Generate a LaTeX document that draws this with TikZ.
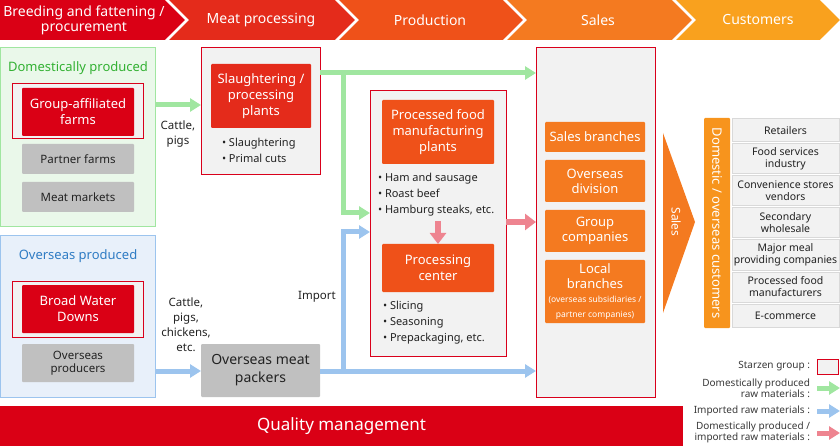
\documentclass[tikz,border=0pt]{standalone}
\usepackage{fontspec}
\setmainfont{Noto Sans}
\usetikzlibrary{arrows.meta}
\definecolor{cA}{HTML}{DA0015}
\definecolor{cB}{HTML}{E42B1B}
\definecolor{cC}{HTML}{EF5119}
\definecolor{cD}{HTML}{F47A20}
\definecolor{cE}{HTML}{F9A11E}
\definecolor{cbar}{HTML}{F7941D}
\definecolor{sred}{HTML}{D9001B}
\definecolor{boxgray}{HTML}{F2F2F2}
\definecolor{midgray}{HTML}{C0C0C0}
\definecolor{lgrayline}{HTML}{D9D9D9}
\definecolor{txt}{HTML}{222222}
\definecolor{gfill}{HTML}{EAF8EA}
\definecolor{gline}{HTML}{A0E6A0}
\definecolor{gtext}{HTML}{33B133}
\definecolor{bfill}{HTML}{E8F0FA}
\definecolor{bline}{HTML}{9CC4EE}
\definecolor{btext}{HTML}{2F7CC4}
\definecolor{pline}{HTML}{EE8490}
\newcommand\fs[2]{\fontsize{#1}{#2}\selectfont}
\newcommand\bx[7]{\node[#2, minimum width={(#5-#3)*1pt}, minimum height={(#6-#4)*1pt}] (#1) at ({(#3+#5)/2},{(#4+#6)/2}) {#7};}
\begin{document}
\begin{tikzpicture}[x=1pt,y=-1pt,
  base/.style={inner sep=0pt, outer sep=0pt, align=center, text=txt},
  grp/.style={base, draw=sred, fill=boxgray, line width=1pt},
  redbox/.style={base, fill=#1, text=white, font=\fs{13}{16}, rounded corners=1pt},
  graybox/.style={base, fill=midgray, font=\fs{11.5}{14}, rounded corners=1pt},
  orbox/.style={base, fill=cD, text=white, font=\fs{13}{15}, rounded corners=1pt},
  custbox/.style={base, fill=boxgray, draw=lgrayline, line width=1pt, font=\fs{10.5}{12}},
  hdr/.style={base, text=white, font=\fs{14}{15}},
  lbl/.style={base, font=\fs{11.5}{15}},
  bul/.style={base, align=left, font=\fs{11}{16}},
  legt/.style={base, align=right, font=\fs{10}{11}, anchor=east, text=txt!90},
  garrow/.style={draw=gline, line width=5pt, -{Triangle[length=11pt,width=13pt]}},
  barrow/.style={draw=bline, line width=5pt, -{Triangle[length=11pt,width=13pt]}},
  parrow/.style={draw=pline, line width=6.5pt, -{Triangle[length=11pt,width=16pt]}},
]
\useasboundingbox (0,0) rectangle (840,446);
% ---------- header chevrons
\fill[cE] (672,0) -- (820,0) -- (842,20) -- (820,40) -- (672,40) -- (694,20) -- cycle;
\fill[cD] (503,0) -- (672,0) -- (694,20) -- (672,40) -- (503,40) -- (525,20) -- cycle;
\fill[cC] (335,0) -- (503,0) -- (525,20) -- (503,40) -- (335,40) -- (357,20) -- cycle;
\fill[cB] (165,0) -- (335,0) -- (357,20) -- (335,40) -- (165,40) -- (187,20) -- cycle;
\fill[cA] (0,0) -- (165,0) -- (187,20) -- (165,40) -- (0,40) -- cycle;
\foreach \xx in {165,335,503,672,820}
  \draw[white, line width=2.5pt] (\xx,-2) -- (\xx+22,20) -- (\xx,42);
\node[hdr] (h1) at (84,20.5) {Breeding and fattening /\\procurement};
\node[hdr] (h2) at (261,20) {Meat processing};
\node[hdr] (h3) at (430,20) {Production};
\node[hdr] (h4) at (598,20) {Sales};
\node[hdr] (h5) at (758,20) {Customers};
% ---------- domestic
\bx{dom}{base, fill=gfill, draw=gline, line width=1pt}{0.5}{48}{155.5}{226.5}{}
\node[base, text=gtext, font=\fs{13}{15}] (domt) at (78,68) {Domestically produced};
\bx{gafg}{grp}{12}{84}{143}{139}{}
\bx{gaf}{redbox=cA}{22}{88}{134}{136}{Group-affiliated\\farms}
\bx{pf}{graybox}{22}{144}{134}{174}{Partner farms}
\bx{mm}{graybox}{22}{182}{134}{212}{Meat markets}
% ---------- overseas
\bx{ovs}{base, fill=bfill, draw=bline, line width=1pt}{0.5}{236}{155.5}{397}{}
\node[base, text=btext, font=\fs{13}{15}] (ovst) at (78,256) {Overseas produced};
\bx{bwdg}{grp}{12}{281}{143}{337}{}
\bx{bwd}{redbox=cA}{22}{285}{134}{333}{Broad Water\\Downs}
\bx{op}{graybox, font=\fs{11.5}{13.5}}{22}{344}{134}{382}{Overseas\\producers}
% ---------- labels
\node[lbl] (cp1) at (178,134) {Cattle,\\pigs};
\node[lbl] (cp2) at (186,324.5) {Cattle,\\pigs,\\chickens,\\etc.};
\node[lbl] (imp) at (317,297) {Import};
% ---------- slaughter
\bx{sl}{grp}{201}{48}{320}{175}{}
\bx{slp}{redbox=cB}{211}{64}{311}{128}{Slaughtering /\\processing\\plants}
\node[bul, anchor=west] (slb) at (222,150) {• Slaughtering\\• Primal cuts};
\bx{omp}{graybox, font=\fs{14}{18}}{201}{344}{320}{397}{Overseas meat\\packers}
% ---------- production
\bx{proc}{grp}{370}{91}{506}{356}{}
\bx{pfm}{redbox=cC}{382}{100}{494}{164}{Processed food\\manufacturing\\plants}
\node[bul, anchor=west] (pfb) at (378,195) {• Ham and sausage\\• Roast beef\\• Hamburg steaks, etc.};
\bx{pcen}{redbox=cC}{382}{244}{494}{292}{Processing\\center}
\node[bul, anchor=west] (pcb) at (383,323) {• Slicing\\• Seasoning\\• Prepackaging, etc.};
% ---------- sales
\bx{sales}{grp}{536}{48}{655}{397}{}
\bx{sb}{orbox}{545}{122}{645}{152}{Sales branches}
\bx{od}{orbox}{545}{160}{645}{202}{Overseas\\division}
\bx{gc}{orbox}{545}{210}{645}{252}{Group\\companies}
\bx{lb}{orbox}{545}{260}{645}{323}{Local\\branches\\[-1.5pt]{\fs{8.5}{9}(overseas subsidiaries /}\\{\fs{8.5}{9}partner companies)}}
% ---------- sales arrow and customers
\fill[cD] (663,133) -- (695,222) -- (663,313) -- cycle;
\node[base, text=white, font=\fs{12}{14}] (salest) at (676,222) {\rotatebox{-90}{Sales}};
\bx{cb}{base, fill=cbar, rounded corners=1pt, text=white, font=\fs{13}{15}}{704}{118}{730}{328}{\rotatebox{-90}{Domestic / overseas customers}}
\bx{c1}{custbox}{732}{119}{839}{142}{Retailers}
\bx{c2}{custbox}{732}{144}{839}{174}{Food services\\industry}
\bx{c3}{custbox}{732}{176}{839}{206}{Convenience stores\\vendors}
\bx{c4}{custbox}{732}{208}{839}{238}{Secondary\\wholesale}
\bx{c5}{custbox}{732}{240}{839}{270}{Major meal\\providing companies}
\bx{c6}{custbox}{732}{272}{839}{302}{Processed food\\manufacturers}
\bx{c7}{custbox}{732}{304}{839}{327}{E-commerce}
% ---------- quality
\bx{qm}{base, fill=cA, text=white, font=\fs{17}{20}}{0}{406}{683}{446}{Quality management}
% ---------- connectors
\coordinate (gj) at (343,73);
\coordinate (bj) at (343,371);
\draw[garrow] (dom.east |- 0,105) -- (sl.west |- 0,105);
\draw[garrow] (sl.east |- gj) -- (sales.west |- gj);
\draw[garrow] (gj) |- (proc.west |- 0,213);
\draw[barrow] (ovs.east |- bj) -- (omp.west |- bj);
\draw[barrow] (omp.east |- bj) -- (sales.west |- bj);
\draw[barrow] (bj) |- (proc.west |- 0,232);
\draw[parrow] (proc.east |- 0,222) -- (sales.west |- 0,222);
\draw[parrow] (pcen.north |- 0,221) -- (pcen.north);
% ---------- legend
\node[legt] (l1) at (810,366) {Starzen group :};
\bx{l1b}{base, fill=boxgray, draw=sred, line width=1pt}{817}{359}{838}{374}{}
\node[legt] (l2) at (810,388.5) {Domestically produced\\raw materials :};
\node[legt] (l3) at (810,411) {Imported raw materials :};
\node[legt] (l4) at (810,432.5) {Domestically produced /\\imported raw materials :};
\coordinate (la2) at (817,388); \coordinate (lb2) at (840,388);
\coordinate (la3) at (817,411); \coordinate (lb3) at (840,411);
\coordinate (la4) at (817,433); \coordinate (lb4) at (840,433);
\draw[garrow] (la2) -- (lb2);
\draw[barrow] (la3) -- (lb3);
\draw[parrow, line width=5pt, -{Triangle[length=11pt,width=13pt]}] (la4) -- (lb4);
\end{tikzpicture}
\end{document}
